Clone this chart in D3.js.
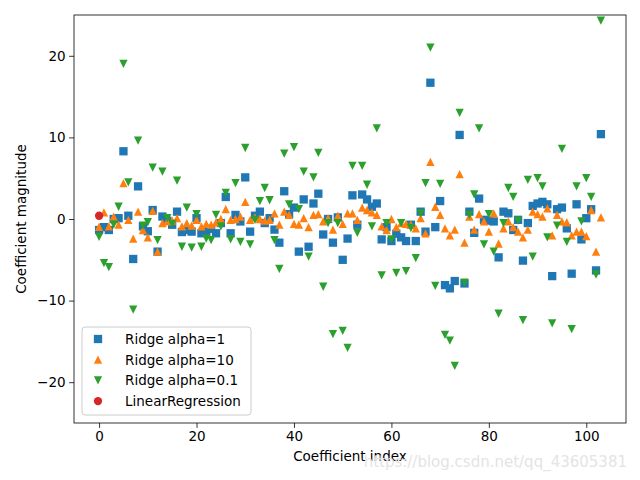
<!DOCTYPE html>
<html><head><meta charset="utf-8">
<script src="https://cdn.jsdelivr.net/npm/d3@7"></script>
<style>body{margin:0;background:#fff}svg{display:block}text{font-family:"DejaVu Sans",sans-serif}</style>
</head><body><svg id="c" width="640" height="480"></svg>
<script>
const ridge1 = [-1.35,-1.0,-1.35,0.0,0.1,8.3,0.4,-4.9,4.0,-0.9,-1.5,1.1,-4.0,0.3,-0.2,-0.7,0.9,-1.6,-1.35,-1.55,0.1,-1.75,-1.55,-1.2,-1.75,-0.5,2.7,-1.75,0.5,-0.3,5.1,-1.55,0.4,0.9,-0.5,0.1,-1.3,-2.9,3.4,0.6,1.4,-4.0,2.4,-3.4,1.9,3.1,-1.9,0.0,-2.9,0.2,-5.0,-2.4,2.9,-0.7,3.0,2.4,1.5,1.9,-2.5,-1.0,-2.7,-1.8,-2.25,-2.7,-0.7,-2.7,0.9,-1.55,16.7,-1.0,2.2,-8.1,-8.5,-7.6,10.3,-7.9,0.9,-1.7,2.5,-0.1,-0.2,-0.3,-4.7,0.9,0.7,-1.35,-0.1,-5.1,-0.5,1.6,1.9,2.1,1.8,-7.0,1.2,1.4,-1.15,-6.7,1.8,-2.5,0.1,1.2,-6.3,10.4];
const ridge10 = [-0.95,0.8,-0.9,0.3,-0.7,4.4,-0.1,-2.4,0.9,-1.35,-2.25,1.0,-4.0,-0.5,-0.3,-0.2,0.1,-0.9,-0.5,-0.8,-0.1,-0.9,-0.6,-0.7,-0.4,0.0,1.2,-0.1,0.0,0.3,2.1,-0.1,0.2,0.0,-0.2,-0.1,0.7,-0.7,0.9,0.5,-0.6,-0.7,0.1,-1.0,0.5,0.6,-0.3,0.1,-1.3,0.4,-0.6,0.7,0.7,-0.1,1.4,1.1,0.8,0.5,-0.9,-1.35,0.0,-1.0,-0.5,-0.6,-0.7,-1.15,0.1,-1.75,7.0,1.5,0.5,-1.15,-2.0,-1.3,5.5,-2.9,0.3,-1.3,0.6,-0.3,-1.55,0.7,-3.0,-1.15,-0.3,-1.0,-1.55,-2.25,-1.3,0.9,0.6,0.3,1.3,-2.0,0.5,-0.3,-0.4,-2.0,-1.55,-1.55,-2.1,1.1,-4.0,0.2];
const ridge01 = [-2.2,-5.4,-5.9,-0.7,1.5,19.0,4.5,-11.1,9.6,-0.8,-0.4,6.3,-2.6,5.8,0.1,-0.6,4.7,-3.4,1.4,-3.5,0.6,-3.4,-2.4,-2.6,0.5,-0.9,3.2,-2.5,4.4,-2.8,8.7,-3.1,-0.1,2.2,3.8,2.3,-2.6,-6.1,8.0,1.8,8.8,1.2,5.8,-4.6,5.1,8.1,-8.3,-0.5,-14.1,-0.5,-13.7,-15.8,6.5,-1.7,6.5,4.2,-0.9,11.1,-6.9,-0.5,-2.5,-6.6,-0.5,-6.4,-1.1,-4.8,0.7,4.4,21.0,-8.2,4.3,-14.2,-14.9,-18.0,13.0,-7.8,0.5,3.0,11.1,-3.1,0.6,-4.0,-11.6,-0.5,3.8,2.7,-0.2,-12.4,4.8,-4.6,5.0,4.0,-2.25,-12.8,-0.8,8.6,-2.8,-13.5,4.0,-0.3,5.0,2.7,-6.8,24.3];
const linreg = [0.4];
const xTicks = [0,20,40,60,80,100];
const yTicks = [-20,-10,0,10,20];
const seriesNames = ["Ridge alpha=1","Ridge alpha=10","Ridge alpha=0.1","LinearRegression"];
const colors = ["#1f77b4","#ff7f0e","#2ca02c","#d62728"];

const svg = d3.select("#c");
const L=74, R=626, T=15, B=423;
const x = d3.scaleLinear().domain([-5.15,108.15]).range([L,R]);
const y = d3.scaleLinear().domain([-25,25]).range([B,T]);

svg.append("defs").append("clipPath").attr("id","clip").append("rect")
  .attr("x",L).attr("y",T).attr("width",R-L).attr("height",B-T);

const ms = 8.3;
const sym = {
  sq: d3.symbol().type(d3.symbolSquare).size(ms*ms),
  circ: d3.symbol().type(d3.symbolCircle).size(Math.PI*(ms/2)*(ms/2))
};
function triUp(s){const h=s/2;return `M0,${-h}L${h},${h}L${-h},${h}Z`;}
function triDown(s){const h=s/2;return `M0,${h}L${h},${-h}L${-h},${-h}Z`;}
const shapes = [()=>sym.sq(), ()=>triUp(ms), ()=>triDown(ms), ()=>sym.circ()];

const g = svg.append("g").attr("clip-path","url(#clip)");
[ridge1, ridge10, ridge01, linreg].forEach((arr,k)=>{
  g.selectAll(null).data(arr).enter().append("path")
    .attr("d", shapes[k]())
    .attr("transform",(d,i)=>`translate(${x(i)},${y(d)})`)
    .attr("fill",colors[k]);
});

// axes
const fmt = d=> d<0 ? "\u2212"+Math.abs(d) : String(d);
const xa = svg.append("g").attr("transform",`translate(0,${B})`)
  .call(d3.axisBottom(x).tickValues(xTicks).tickFormat(fmt).tickSize(4.9).tickPadding(3.5));
const ya = svg.append("g").attr("transform",`translate(${L},0)`)
  .call(d3.axisLeft(y).tickValues(yTicks).tickFormat(fmt).tickSize(4.9).tickPadding(3.5));
[xa,ya].forEach(a=>{
  a.select(".domain").remove();
  a.selectAll("line").attr("stroke","#000").attr("stroke-width",0.8);
  a.selectAll("text").attr("font-size","13.5px").attr("fill","#000").attr("font-family","DejaVu Sans");
});
svg.append("rect").attr("x",L).attr("y",T).attr("width",R-L).attr("height",B-T)
  .attr("fill","none").attr("stroke","#000").attr("stroke-width",0.8);

svg.append("text").attr("x",(L+R)/2).attr("y",461).attr("text-anchor","middle")
  .attr("font-size","13.5px").text("Coefficient index");
svg.append("text").attr("transform",`translate(26,${(T+B)/2}) rotate(-90)`).attr("text-anchor","middle")
  .attr("font-size","13.5px").text("Coefficient magnitude");

// legend
const lg = svg.append("g");
lg.append("rect").attr("x",82).attr("y",327).attr("width",169).attr("height",88)
  .attr("rx",3).attr("fill","#fff").attr("fill-opacity",0.8).attr("stroke","#ccc").attr("stroke-width",1);
seriesNames.forEach((n,k)=>{
  const yy = 339 + k*20.7;
  lg.append("path").attr("d",shapes[k]()).attr("transform",`translate(98,${yy})`).attr("fill",colors[k]);
  lg.append("text").attr("x",125).attr("y",yy+5).attr("font-size","13.5px").text(n);
});

// watermark
svg.append("text").attr("x",627).attr("y",467).attr("text-anchor","end")
  .attr("font-family","Liberation Sans, Arial, sans-serif")
  .attr("font-size","15px").attr("fill","#e4e4e4").text("https://blog.csdn.net/qq_43605381");
</script></body></html>
